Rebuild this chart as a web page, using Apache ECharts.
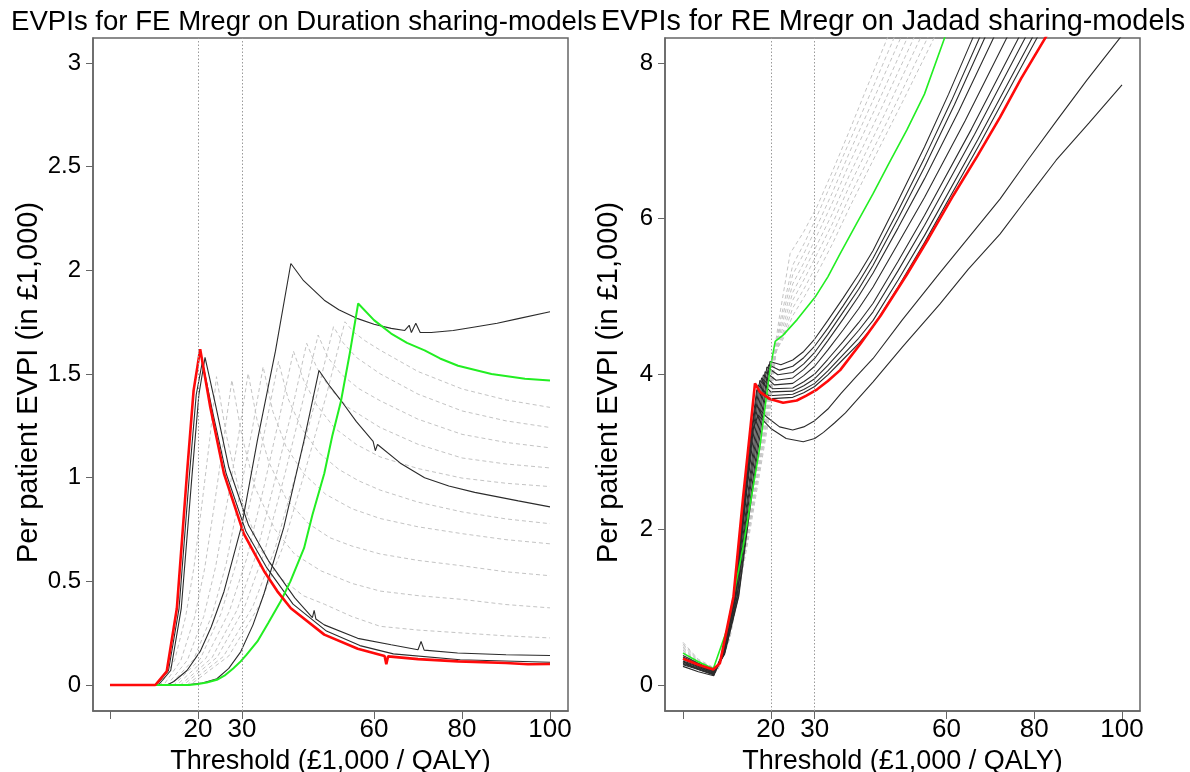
<!DOCTYPE html>
<html>
<head>
<meta charset="utf-8">
<script src="https://cdn.jsdelivr.net/npm/echarts@6/dist/echarts.min.js"></script>
<style>
  html, body { margin: 0; padding: 0; background: #fff; }
  #chart { width: 1190px; height: 772px; }
</style>
</head>
<body>
<div id="chart"></div>
<script>
// ---- axis ticks ----
var xTicks = [0, 20, 30, 60, 80, 100];
var xLabels = [20, 30, 60, 80, 100];
var feYTicks = [0, 0.5, 1, 1.5, 2, 2.5, 3];
var reYTicks = [0, 2, 4, 6, 8];
var thresholds = [20, 30];

// ---- left panel: FE Mregr on Duration ----
var feRed = [[0,0],[10.3,0],[12.9,0.066],[15.2,0.37],[17.5,1.02],[19,1.42],[20.5,1.62],[22.8,1.34],[25.9,1.02],[30.4,0.73],[35,0.55],[38,0.453],[41.1,0.37],[48.7,0.243],[56.3,0.175],[62.4,0.14],[62.8,0.1],[63.2,0.138],[70,0.125],[79.1,0.114],[90,0.106],[95,0.1],[100,0.101]];
var feBlackA = [[0,0],[11,0],[13.8,0.07],[16.2,0.37],[18.6,1.0],[20.2,1.4],[21.6,1.58],[24,1.35],[27,1.05],[31.5,0.77],[36,0.6],[42,0.42],[46,0.325],[46.4,0.36],[46.8,0.318],[48.7,0.29],[56.3,0.225],[63.9,0.194],[70,0.17],[70.7,0.21],[71.4,0.168],[79,0.154],[90,0.146],[100,0.142]];
var feBlackB = [[0,0],[10.6,0],[13.3,0.07],[15.7,0.37],[18,1.0],[19.6,1.4],[21,1.56],[23.3,1.32],[26.4,1.02],[30.9,0.74],[35.5,0.57],[41.6,0.39],[49.2,0.26],[56.8,0.19],[64.4,0.15],[79.6,0.122],[100,0.11]];
var feBlackC = [[0,0],[13,0],[14.5,0.017],[17.5,0.07],[20.5,0.162],[23,0.28],[25.9,0.45],[30,0.775],[33.5,1.18],[37.6,1.61],[41.1,2.033],[44,1.95],[48.7,1.856],[52,1.81],[56.3,1.767],[60,1.74],[63.9,1.72],[67,1.71],[68,1.735],[68.5,1.7],[69.5,1.745],[70.5,1.7],[73,1.7],[78,1.71],[82.9,1.727],[88,1.745],[92.8,1.767],[100,1.8]];
var feBlackD = [[0,0],[17,0],[21,0.01],[24.3,0.03],[27,0.08],[29.7,0.16],[32.5,0.29],[35,0.44],[39.5,0.76],[44.1,1.18],[47.5,1.517],[50,1.44],[52.5,1.372],[56,1.27],[59.8,1.175],[60.3,1.13],[60.8,1.16],[66,1.07],[71.5,1.0],[77,0.96],[82.9,0.929],[92.8,0.888],[100,0.859]];
var feGreen = [[0,0],[18,0],[20,0.005],[22,0.012],[24.3,0.025],[26,0.045],[28,0.08],[29.7,0.114],[31,0.145],[33.5,0.21],[36,0.3],[38.8,0.404],[41,0.5],[44.1,0.66],[46,0.82],[48.7,1.02],[50.5,1.2],[52.5,1.37],[54.5,1.6],[56.4,1.84],[60,1.76],[63.9,1.695],[67.5,1.65],[71.5,1.614],[75,1.575],[79.1,1.54],[86.7,1.5],[94.3,1.477],[100,1.469]];
var feGray1 = [[0,0],[11.5,0],[14.7,0.12],[17.2,0.33],[19.1,0.57],[21,0.89],[22.7,1.19],[24.2,1.487],[26.5,1.2],[29.5,0.92],[34,0.66],[38.5,0.52],[44,0.43],[48.7,0.39],[55,0.33],[61.4,0.283],[70,0.265],[80,0.251],[90,0.237],[100,0.227]];
var feGray2 = [[0,0],[12.2,0],[16.1,0.118],[19.2,0.324],[21.5,0.56],[23.8,0.88],[25.8,1.18],[27.7,1.471],[30,1.2],[33,0.95],[37.5,0.75],[42,0.63],[48,0.55],[55,0.49],[61.4,0.453],[70,0.431],[80,0.413],[90,0.388],[100,0.372]];
var feGray3 = [[0,0],[13,0],[17.6,0.12],[21.3,0.33],[24,0.57],[26.8,0.9],[29.2,1.2],[31.4,1.503],[33.5,1.27],[36,1.08],[40,0.9],[45,0.78],[50,0.71],[55,0.67],[61.4,0.632],[70,0.601],[80,0.575],[90,0.546],[100,0.527]];
var feGray4 = [[0,0],[13.7,0],[19,0.123],[23.2,0.338],[26.4,0.583],[29.5,0.92],[32.3,1.23],[34.8,1.535],[37,1.32],[40,1.15],[44,1.02],[49,0.92],[55,0.85],[61.4,0.803],[70,0.763],[80,0.73],[90,0.701],[100,0.681]];
var feGray5 = [[0,0],[14.5,0],[20.5,0.125],[25.2,0.343],[28.8,0.593],[32.4,0.936],[35.4,1.25],[38.3,1.56],[40.5,1.38],[43.5,1.24],[47.5,1.12],[52,1.04],[56.5,0.985],[61.4,0.94],[70,0.882],[80,0.835],[90,0.801],[100,0.778]];
var feGray6 = [[0,0],[15.2,0],[21.8,0.129],[27.1,0.354],[31.1,0.612],[35.1,0.966],[38.5,1.29],[41.7,1.61],[44,1.47],[47,1.35],[51,1.24],[56,1.16],[61.4,1.1],[70,1.044],[80,0.998],[90,0.973],[100,0.957]];
var feGray7 = [[0,0],[16,0],[23.2,0.132],[28.9,0.363],[33.2,0.626],[37.5,0.989],[41.3,1.32],[44.7,1.648],[47,1.53],[50,1.43],[54,1.34],[61.4,1.242],[70,1.161],[80,1.095],[90,1.066],[100,1.047]];
var feGray8 = [[0,0],[16.7,0],[24.4,0.135],[30.5,0.371],[35.1,0.641],[39.7,1.013],[43.6,1.35],[47.3,1.688],[49.5,1.58],[52.5,1.5],[56.5,1.43],[61.4,1.371],[70,1.282],[80,1.209],[90,1.17],[100,1.144]];
var feGray9 = [[0,0],[17.5,0],[25.8,0.138],[32.5,0.38],[37.5,0.657],[42.5,1.037],[46.8,1.38],[50.8,1.728],[53,1.65],[56,1.58],[61.4,1.501],[70,1.403],[80,1.322],[90,1.274],[100,1.242]];
var feGray10 = [[0,0],[18.2,0],[27,0.14],[34,0.385],[39.3,0.666],[44.6,1.051],[49.2,1.4],[53.4,1.752],[55.5,1.7],[58,1.66],[61.4,1.615],[70,1.512],[80,1.428],[90,1.375],[100,1.339]];

// ---- right panel: RE Mregr on Jadad ----
var reRed = [[0,0.34],[3.5,0.26],[6.9,0.2],[8.4,0.28],[11.5,1.14],[13.7,2.42],[15.3,3.28],[16.4,3.88],[17.5,3.77],[19.8,3.68],[22.8,3.63],[25.9,3.66],[28,3.72],[30.5,3.8],[33,3.91],[35.8,4.05],[40.3,4.38],[45,4.75],[51,5.28],[56,5.75],[61.6,6.3],[67,6.8],[72.2,7.3],[77,7.8],[82.5,8.32],[86,8.68]];
var reGreen = [[0,0.41],[3.5,0.3],[6.9,0.21],[10,0.71],[13.7,1.78],[17.5,3.06],[19.8,4.05],[21,4.42],[22.8,4.5],[26,4.7],[30.1,4.99],[33,5.25],[35.8,5.55],[39.5,5.93],[43.3,6.32],[47,6.72],[51,7.14],[55,7.6],[59.7,8.34],[63,8.7]];
var reBlack1 = [[0,0.38],[3.5,0.28],[7.2,0.18],[9.5,0.4],[12.7,1.14],[15.6,2.42],[17.7,3.28],[19.8,4.16],[22.3,4.12],[25,4.18],[27.5,4.29],[30,4.45],[33,4.69],[36.5,4.98],[40,5.28],[43.3,5.59],[49,6.23],[55,6.92],[60.5,7.6],[66,8.32],[71,8.97]];
var reBlack2 = [[0,0.36],[3.5,0.27],[7.2,0.17],[9.4,0.4],[12.6,1.14],[15.4,2.42],[17.4,3.28],[19.5,4.12],[22,4.05],[25,4.1],[27.5,4.21],[30,4.36],[33,4.59],[36.5,4.88],[40,5.18],[43.3,5.49],[49,6.1],[55,6.78],[61.2,7.52],[67.5,8.32],[72.5,8.92]];
var reBlack3 = [[0,0.35],[3.5,0.26],[7.2,0.17],[9.4,0.4],[12.4,1.14],[15.1,2.42],[17.1,3.28],[19.1,4.09],[21.6,3.99],[25,4.02],[27.5,4.13],[30,4.28],[33,4.51],[36.5,4.8],[40,5.09],[43.3,5.4],[49,6.0],[55,6.66],[61.8,7.46],[68.7,8.32],[73.7,8.9]];
var reBlack4 = [[0,0.33],[3.5,0.25],[7.2,0.16],[9.3,0.4],[12.3,1.14],[14.9,2.42],[16.8,3.28],[18.7,4.03],[21.2,3.92],[25,3.95],[27.5,4.06],[30,4.2],[33,4.43],[36.5,4.71],[40,5.0],[43.3,5.3],[49,5.88],[55,6.51],[62.8,7.38],[70.7,8.32],[75.7,8.87]];
var reBlack5 = [[0,0.31],[3.5,0.24],[7.1,0.16],[9.2,0.4],[12.1,1.14],[14.7,2.42],[16.5,3.28],[18.3,3.99],[20.8,3.86],[25,3.88],[27.5,3.98],[30,4.1],[33,4.31],[36.5,4.57],[40,4.84],[43.3,5.12],[49,5.68],[55,6.27],[64.3,7.26],[73.7,8.32],[78.7,8.85]];
var reBlack6 = [[0,0.3],[3.5,0.23],[7.1,0.15],[9.2,0.4],[12,1.14],[14.4,2.42],[16.2,3.28],[17.9,3.95],[20.4,3.81],[25,3.82],[27.5,3.9],[30,4.0],[33,4.19],[36.5,4.42],[40,4.66],[43.3,4.91],[49,5.45],[55,6.04],[65.7,7.15],[76.4,8.32],[81.4,8.84]];
var reBlack7 = [[0,0.28],[3.5,0.22],[7.1,0.15],[9.1,0.4],[11.9,1.14],[14.3,2.42],[16,3.28],[17.5,3.92],[20,3.77],[25,3.78],[27.5,3.85],[30,3.94],[33,4.11],[36.5,4.33],[40,4.56],[43.3,4.8],[49,5.33],[55,5.91],[66.4,7.08],[77.9,8.32],[82.9,8.83]];
var reBlack8 = [[0,0.27],[3.5,0.21],[7,0.14],[9.1,0.4],[11.8,1.14],[14.1,2.42],[15.8,3.28],[17.1,3.86],[19.6,3.72],[25,3.74],[27.5,3.8],[30,3.88],[33,4.04],[36.5,4.25],[40,4.46],[43.3,4.69],[49,5.21],[55,5.78],[67.2,7.02],[79.5,8.32],[84.5,8.82]];
var reBlack9 = [[0,0.26],[3.5,0.2],[7,0.14],[9,0.4],[11.7,1.14],[13.9,2.42],[15.6,3.28],[16.8,3.8],[19.3,3.68],[25,3.7],[27.5,3.76],[30,3.84],[33,3.99],[36.5,4.19],[40,4.39],[43.3,4.61],[49,5.12],[55,5.69],[67.8,6.98],[80.6,8.32],[85.6,8.82]];
var reLow1 = [[0,0.3],[3.5,0.2],[7,0.13],[9,0.4],[11.7,1.14],[13.9,2.42],[15.6,3.28],[16.6,3.6],[19,3.45],[22,3.32],[25,3.28],[27.5,3.32],[30,3.4],[33,3.55],[36,3.75],[39.5,3.97],[43.3,4.2],[50,4.7],[58.5,5.3],[65,5.75],[72.2,6.25],[78.5,6.75],[85,7.25],[92,7.78],[99.5,8.32],[102,8.5]];
var reLow2 = [[0,0.24],[3.5,0.17],[7,0.12],[9.1,0.4],[11.8,1.14],[14.2,2.42],[15.9,3.28],[17.1,3.47],[20,3.3],[23.5,3.17],[27.4,3.13],[30,3.17],[32,3.25],[34.5,3.37],[37,3.5],[40,3.69],[43.3,3.9],[50,4.35],[58.5,4.9],[65,5.35],[72.2,5.8],[78.5,6.27],[85,6.75],[92.5,7.23],[100,7.72]];
var reGray1 = [[0,0.55],[3.5,0.33],[7.5,0.21],[10,0.6],[14.4,2.0],[18.7,3.5],[20.3,4.1],[22,4.75],[24.4,5.55],[27.5,5.83],[30.5,6.15],[34,6.6],[38,7.14],[42,7.7],[46.4,8.3],[50,8.8]];
var reGray2 = [[0,0.53],[3.5,0.32],[7.5,0.2],[10.1,0.6],[14.5,2.0],[18.8,3.5],[20.5,4.15],[22.2,4.7],[25,5.4],[27.8,5.7],[30.5,6.03],[34,6.48],[38,7.0],[43,7.65],[47.9,8.3],[51.5,8.8]];
var reGray3 = [[0,0.51],[3.5,0.31],[7.6,0.2],[10.2,0.6],[14.6,2.0],[19,3.5],[20.6,4.18],[22.3,4.65],[25,5.28],[27.8,5.58],[30.5,5.9],[34,6.33],[38,6.86],[43.7,7.57],[49.4,8.3],[53,8.75]];
var reGray4 = [[0,0.49],[3.5,0.3],[7.6,0.19],[10.3,0.6],[14.8,2.0],[19.1,3.5],[20.8,4.2],[22.4,4.6],[25,5.16],[27.8,5.46],[30.5,5.78],[34,6.2],[38,6.72],[44.5,7.5],[50.9,8.3],[54.5,8.72]];
var reGray5 = [[0,0.47],[3.5,0.29],[7.7,0.19],[10.4,0.6],[14.9,2.0],[19.3,3.5],[20.9,4.22],[22.5,4.55],[25,5.05],[27.8,5.35],[30.5,5.66],[34,6.06],[38,6.57],[45.2,7.42],[52.4,8.3],[56,8.7]];
var reGray6 = [[0,0.45],[3.5,0.28],[7.7,0.18],[10.5,0.6],[15,2.0],[19.4,3.5],[21,4.25],[22.6,4.5],[25,4.95],[27.8,5.24],[30.5,5.54],[34,5.93],[38,6.43],[46,7.35],[53.9,8.3],[57.5,8.7]];
var reGray7 = [[0,0.43],[3.5,0.27],[7.8,0.18],[10.6,0.6],[15.1,2.0],[19.6,3.5],[21.1,4.27],[22.7,4.47],[25,4.85],[27.8,5.12],[30.5,5.41],[34,5.8],[38,6.29],[46.8,7.28],[55.5,8.3],[59,8.68]];
var reGray8 = [[0,0.41],[3.5,0.26],[7.8,0.17],[10.7,0.6],[15.3,2.0],[19.8,3.5],[21.2,4.3],[22.8,4.45],[25,4.75],[27.8,5.01],[30.5,5.29],[34,5.67],[38,6.15],[43.3,6.75],[50,7.5],[57,8.3],[60.5,8.68]];

var FONT = '"Liberation Sans", Arial, sans-serif';

function line(data, axis, color, width, dashed) {
  return {
    type: 'line', data: data, xAxisIndex: axis, yAxisIndex: axis,
    showSymbol: false, symbol: 'none', silent: true, clip: true,
    lineStyle: { color: color, width: width, type: dashed ? [4, 3] : 'solid' }
  };
}

function thresholdMarks() {
  return {
    silent: true, symbol: 'none', label: { show: false },
    lineStyle: { color: '#9a9a9a', type: [1.5, 2], width: 1 },
    data: thresholds.map(function (t) { return { xAxis: t }; })
  };
}

function xAxisOf(grid, min, max) {
  return {
    gridIndex: grid, type: 'value', min: min, max: max,
    axisLine: { show: true, onZero: false, lineStyle: { color: '#666', width: 1.5 } },
    axisTick: { show: true, customValues: xTicks, length: 8, lineStyle: { color: '#666' } },
    axisLabel: { customValues: xLabels, color: '#000', fontFamily: FONT, fontSize: 26, margin: 6 },
    splitLine: { show: false },
    name: 'Threshold (\u00a31,000 / QALY)', nameLocation: 'middle', nameGap: 30,
    nameTextStyle: { color: '#000', fontFamily: FONT, fontSize: 27 }
  };
}

function yAxisOf(grid, min, max, ticks, gap) {
  return {
    gridIndex: grid, type: 'value', min: min, max: max,
    axisLine: { show: true, onZero: false, lineStyle: { color: '#666', width: 1.5 } },
    axisTick: { show: true, customValues: ticks, length: 7, lineStyle: { color: '#666' } },
    axisLabel: { customValues: ticks, color: '#000', fontFamily: FONT, fontSize: 24, margin: 12 },
    splitLine: { show: false },
    name: 'Per patient EVPI (in \u00a31,000)', nameLocation: 'middle', nameGap: gap,
    nameTextStyle: { color: '#000', fontFamily: FONT, fontSize: 29, padding: [0, 16, 0, 0] }
  };
}

var leftSeries = [feGray1, feGray2, feGray3, feGray4, feGray5, feGray6, feGray7, feGray8, feGray9, feGray10]
  .map(function (d) { return line(d, 0, '#c4c4c4', 1, true); })
  .concat([
    line(feBlackC, 0, '#2b2b2b', 1.1),
    line(feBlackD, 0, '#2b2b2b', 1.1),
    line(feBlackA, 0, '#2b2b2b', 1.1),
    line(feBlackB, 0, '#2b2b2b', 1.1),
    line(feGreen, 0, '#22ee22', 2),
    line(feRed, 0, '#ff0a0a', 2.6)
  ]);
leftSeries[0].markLine = thresholdMarks();

var rightSeries = [reGray1, reGray2, reGray3, reGray4, reGray5, reGray6, reGray7, reGray8]
  .map(function (d) { return line(d, 1, '#c4c4c4', 1, true); })
  .concat([reBlack1, reBlack2, reBlack3, reBlack4, reBlack5, reBlack6, reBlack7, reBlack8, reBlack9, reLow1, reLow2]
    .map(function (d) { return line(d, 1, '#2b2b2b', 1.1); }))
  .concat([
    line(reGreen, 1, '#22ee22', 1.6),
    line(reRed, 1, '#ff0a0a', 2.6)
  ]);
rightSeries[0].markLine = thresholdMarks();

var chart = echarts.init(document.getElementById('chart'), null, { renderer: 'canvas' });
chart.setOption({
  animation: false,
  backgroundColor: '#fff',
  title: [
    { text: 'EVPIs for FE Mregr on Duration sharing-models', left: 6, top: 3,
      textStyle: { fontFamily: FONT, fontSize: 27.6, fontWeight: 'normal', color: '#000' } },
    { text: 'EVPIs for RE Mregr on Jadad sharing-models', left: 596, top: 3,
      textStyle: { fontFamily: FONT, fontSize: 28.8, fontWeight: 'normal', color: '#000' } }
  ],
  grid: [
    { left: 93, top: 38, width: 475, height: 673, show: true, borderColor: '#666', borderWidth: 1.5, outerBoundsMode: 'none', containLabel: false },
    { left: 665, top: 38, width: 475, height: 673, show: true, borderColor: '#666', borderWidth: 1.5, outerBoundsMode: 'none', containLabel: false }
  ],
  xAxis: [xAxisOf(0, -3.86, 104.09), xAxisOf(1, -4.1, 104.1)],
  yAxis: [yAxisOf(0, -0.1254, 3.1206, feYTicks, 50), yAxisOf(1, -0.334, 8.322, reYTicks, 42)],
  series: leftSeries.concat(rightSeries)
});
</script>
</body>
</html>
